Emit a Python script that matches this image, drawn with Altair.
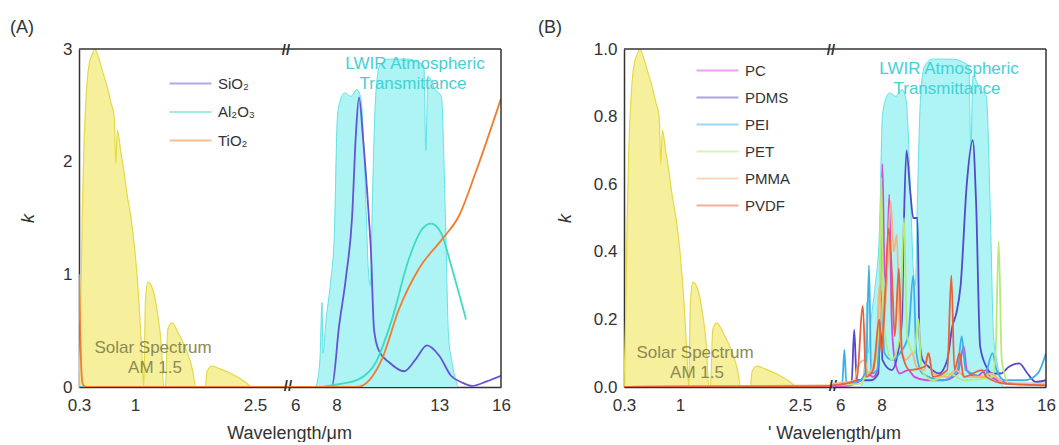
import altair as alt
import pandas as pd

# ---------------- data ----------------
# normalised AM1.5 solar spectrum (background)
solar_wl = [0.30, 0.32, 0.34, 0.36, 0.38, 0.40, 0.43, 0.46, 0.50, 0.55, 0.60, 0.65, 0.70, 0.74,
            0.76, 0.78, 0.82, 0.86, 0.90, 0.95, 1.00, 1.05, 1.09, 1.11, 1.13, 1.16, 1.22, 1.28,
            1.33, 1.36, 1.38, 1.41, 1.46, 1.54, 1.64, 1.72, 1.76, 1.88, 1.90, 1.96, 2.07, 2.23,
            2.36, 2.45]
solar_rel = [0.0, 0.20, 0.50, 0.70, 0.82, 0.90, 0.96, 0.98, 1.00, 0.97, 0.93, 0.89, 0.84, 0.80,
             0.66, 0.76, 0.70, 0.64, 0.57, 0.50, 0.40, 0.25, 0.08, 0.0, 0.25, 0.31, 0.29, 0.22,
             0.12, 0.0, 0.0, 0.17, 0.19, 0.16, 0.11, 0.05, 0.0, 0.0, 0.045, 0.062, 0.053, 0.036,
             0.018, 0.0]

# normalised LWIR atmospheric transmittance (background)
lwir_wl = [7.0, 7.2, 7.3, 7.35, 7.5, 7.7, 7.9, 8.05, 8.2, 8.4, 8.7, 9.0, 9.2, 9.4, 9.55, 9.65,
           9.75, 9.9, 10.1, 10.5, 11.0, 11.5, 12.0, 12.25, 12.35, 12.45, 12.8, 13.1, 13.3,
           13.45, 13.6, 13.9]
lwir_rel = [0.0, 0.08, 0.25, 0.10, 0.20, 0.30, 0.45, 0.80, 0.85, 0.87, 0.86, 0.88, 0.85, 0.60,
            0.35, 0.30, 0.55, 0.85, 0.95, 0.97, 0.97, 0.97, 0.96, 0.95, 0.70, 0.92, 0.88, 0.86,
            0.50, 0.15, 0.08, 0.0]

# (A) inorganic materials
a_names = ["SiO₂", "Al₂O₃", "TiO₂"]
a_colors = ["#6652d6", "#3fd9c4", "#f07d2e"]
sio2_wl = [0.3, 7.3, 7.79, 8.13, 8.47, 8.76, 8.95, 9.1, 9.3, 9.58, 9.68, 9.83, 10.07, 10.56,
           11.29, 11.87, 12.4, 12.99, 13.57, 14.1, 14.6, 15.3, 16.0]
sio2_k = [0.0, 0.0, 0.01, 0.54, 0.98, 1.50, 2.25, 2.57, 2.20, 1.50, 1.20, 0.51, 0.32, 0.22,
          0.14, 0.25, 0.37, 0.28, 0.10, 0.04, 0.01, 0.05, 0.10]
al2o3_wl = [0.3, 7.3, 7.6, 8.27, 9.1, 9.92, 10.7, 11.53, 12.16, 12.6, 13.08, 13.62, 14.3]
al2o3_k = [0.0, 0.0, 0.01, 0.03, 0.07, 0.22, 0.60, 1.14, 1.40, 1.45, 1.37, 1.05, 0.60]
tio2_wl = [0.3, 0.315, 0.33, 0.35, 0.40, 9.0, 9.24, 10.22, 11.04, 12.01, 13.13, 13.96, 14.78,
           15.56, 16.0]
tio2_k = [1.0, 0.50, 0.15, 0.02, 0.0, 0.0, 0.01, 0.25, 0.69, 1.05, 1.31, 1.52, 1.91, 2.32, 2.56]

# (B) polymers
b_names = ["PC", "PDMS", "PEI", "PET", "PMMA", "PVDF"]
b_colors = ["#d24cd6", "#5548cc", "#3cb0ea", "#b4ea7a", "#f4b27c", "#e8603c"]
pc_wl = [0.3, 5.6, 6.5, 7.0, 7.3, 7.6, 7.85, 7.95, 8.05, 8.15, 8.25, 8.38, 8.5, 8.65, 8.9, 9.3,
         9.6, 10.2, 11.0, 11.7, 11.85, 12.0, 12.15, 12.6, 13.1, 13.3, 14.5, 16.0]
pc_k = [0.0, 0.0, 0.005, 0.02, 0.04, 0.03, 0.06, 0.30, 0.66, 0.35, 0.30, 0.57, 0.20, 0.08, 0.04,
        0.05, 0.03, 0.02, 0.02, 0.04, 0.08, 0.12, 0.05, 0.03, 0.05, 0.03, 0.01, 0.01]
pdms_wl = [0.3, 5.6, 6.55, 6.68, 6.8, 7.5, 7.85, 7.95, 8.05, 8.5, 8.8, 9.0, 9.1, 9.22, 9.4, 9.55,
           9.75, 9.85, 10.0, 10.3, 10.8, 11.2, 11.45, 11.65, 11.85, 12.15, 12.44, 12.6, 12.8,
           13.1, 13.4, 13.8, 14.2, 14.7, 15.1, 15.5, 16.0]
pdms_k = [0.0, 0.005, 0.01, 0.17, 0.02, 0.02, 0.04, 0.30, 0.08, 0.05, 0.10, 0.20, 0.50, 0.70,
          0.58, 0.50, 0.50, 0.15, 0.08, 0.06, 0.04, 0.08, 0.18, 0.22, 0.30, 0.60, 0.73, 0.55,
          0.12, 0.06, 0.04, 0.04, 0.06, 0.07, 0.04, 0.015, 0.02]
pei_wl = [0.3, 5.6, 6.1, 6.2, 6.3, 7.0, 7.25, 7.4, 7.5, 7.8, 8.0, 8.15, 8.5, 8.9, 9.3, 9.55, 9.7,
          10.0, 11.0, 11.7, 11.9, 12.1, 13.0, 13.4, 13.6, 14.0, 15.0, 15.6, 16.0]
pei_k = [0.0, 0.005, 0.01, 0.11, 0.01, 0.02, 0.05, 0.36, 0.04, 0.05, 0.25, 0.10, 0.08, 0.10,
         0.15, 0.33, 0.10, 0.04, 0.02, 0.05, 0.15, 0.05, 0.03, 0.10, 0.05, 0.02, 0.02, 0.04, 0.10]
pet_wl = [0.3, 5.6, 7.0, 7.3, 7.6, 7.9, 8.0, 8.1, 8.5, 8.9, 9.1, 9.25, 9.6, 9.8, 9.95, 10.5,
          11.3, 12.0, 13.4, 13.55, 13.7, 13.85, 14.2, 16.0]
pet_k = [0.0, 0.005, 0.01, 0.04, 0.05, 0.20, 0.62, 0.20, 0.08, 0.15, 0.50, 0.15, 0.10, 0.20,
         0.05, 0.02, 0.04, 0.02, 0.03, 0.10, 0.43, 0.08, 0.01, 0.01]
pmma_wl = [0.3, 5.6, 6.7, 6.85, 7.2, 7.35, 7.75, 7.9, 8.05, 8.25, 8.45, 8.6, 8.75, 8.9, 9.2,
           9.5, 9.7, 10.1, 10.25, 10.5, 11.2, 11.6, 12.1, 13.0, 13.3, 14.0, 16.0]
pmma_k = [0.0, 0.01, 0.02, 0.06, 0.08, 0.04, 0.10, 0.30, 0.15, 0.30, 0.55, 0.40, 0.45, 0.15,
          0.08, 0.10, 0.06, 0.05, 0.10, 0.04, 0.03, 0.05, 0.03, 0.03, 0.04, 0.01, 0.005]
pvdf_wl = [0.3, 5.6, 6.8, 7.1, 7.25, 7.6, 7.9, 8.0, 8.2, 8.35, 8.5, 8.65, 8.85, 9.0, 9.4, 10.1,
           10.3, 10.5, 11.2, 11.4, 11.55, 11.8, 12.0, 12.9, 13.1, 14.0, 16.0]
pvdf_k = [0.0, 0.005, 0.02, 0.24, 0.03, 0.05, 0.20, 0.10, 0.30, 0.47, 0.35, 0.15, 0.35, 0.10,
          0.05, 0.06, 0.10, 0.03, 0.05, 0.33, 0.05, 0.10, 0.03, 0.05, 0.03, 0.01, 0.005]

# axis tick labels
left_ticks = [0.3, 1, 2.5]
right_ticks = [6, 8, 13, 16]
a_yticks = [0, 1, 2, 3]
b_yticks = [0, 0.2, 0.4, 0.6, 0.8, 1.0]

# ---------------- tables ----------------
solar_df = pd.DataFrame({"wl": solar_wl, "rel": solar_rel})
lwir_df = pd.DataFrame({"wl": lwir_wl, "rel": lwir_rel})


def series_df(names, wls, ks):
    frames = []
    for n, w, k in zip(names, wls, ks):
        frames.append(pd.DataFrame({"wl": w, "k": k, "name": n}))
    return pd.concat(frames, ignore_index=True)


a_df = series_df(a_names, [sio2_wl, al2o3_wl, tio2_wl], [sio2_k, al2o3_k, tio2_k])
b_df = series_df(b_names, [pc_wl, pdms_wl, pei_wl, pet_wl, pmma_wl, pvdf_wl],
                 [pc_k, pdms_k, pei_k, pet_k, pmma_k, pvdf_k])

# ---------------- layout constants ----------------
WL, WR, H = 208, 214, 338
FONT = "Liberation Sans"
DARK = "#333333"
LEFT_DOM = [0.3, 2.9]
RIGHT_DOM = [5.6, 16.0]
XLABEL = "'' + datum.value"


def background(xs):
    ys = alt.Y("rel:Q", scale=alt.Scale(domain=[0, 1], nice=False), axis=None)
    lw_area = alt.Chart(lwir_df).mark_area(clip=True, color="#aaf3f3", opacity=0.95,
                                           interpolate="monotone").encode(x=xs, y=ys)
    lw_line = alt.Chart(lwir_df).mark_line(clip=True, color="#62e2e6", strokeWidth=1,
                                           interpolate="monotone").encode(x=xs, y=ys)
    so_area = alt.Chart(solar_df).mark_area(clip=True, color="#f4ec84", opacity=0.8,
                                            interpolate="monotone").encode(x=xs, y=ys)
    so_line = alt.Chart(solar_df).mark_line(clip=True, color="#e4d948", strokeWidth=1.2,
                                            interpolate="monotone").encode(x=xs, y=ys)
    return [lw_area, lw_line, so_area, so_line]


def panel(df, names, colors, ymax, yticks, yfmt, label, xtitle, ytitle_x,
          legend_x, legend_y, row_pad, solar_pos, lwir_pos, label_x):
    # ----- left sub-panel -----
    xl = alt.X("wl:Q", scale=alt.Scale(domain=LEFT_DOM, nice=False, zero=False),
               axis=alt.Axis(values=left_ticks, labelExpr=XLABEL, labelFlush=False, ticks=False,
                             grid=False, domainColor=DARK, domainWidth=1.5, labelFontSize=17,
                             labelPadding=10, labelColor=DARK, title=xtitle,
                             titleFontSize=18, titleFontWeight="normal", titleColor=DARK,
                             titleX=WL + 2, titleY=51, titleAlign="center",
                             titleBaseline="alphabetic"))
    yl = alt.Y("k:Q", scale=alt.Scale(domain=[0, ymax], nice=False),
               axis=alt.Axis(values=yticks, format=yfmt, ticks=False, grid=False,
                             domainColor=DARK, domainWidth=1.5, labelFontSize=17,
                             labelPadding=7, labelColor=DARK, title="k",
                             titleFontStyle="italic", titleFontSize=18,
                             titleFontWeight="normal", titleColor=DARK,
                             titleX=ytitle_x, titleY=H / 2, titleBaseline="middle"))
    color_l = alt.Color("name:N", scale=alt.Scale(domain=names, range=colors),
                        legend=alt.Legend(orient="none", legendX=legend_x, legendY=legend_y,
                                          title=None, symbolType="M-3,0H3", symbolSize=196,
                                          symbolStrokeWidth=2.2, symbolOpacity=0.5,
                                          labelFontSize=15, labelColor=DARK, labelFont=FONT,
                                          labelOffset=19, rowPadding=row_pad, padding=0))
    lines_l = alt.Chart(df).mark_line(clip=True, strokeWidth=1.8,
                                      interpolate="monotone").encode(
        x=xl, y=yl, color=color_l, order="wl:Q")

    deco_l = [
        alt.Chart().mark_rule(color=DARK, strokeWidth=1.5).encode(
            x=alt.value(0), x2=alt.value(WL), y=alt.value(0)),
        alt.Chart().mark_text(text="//", fontSize=15, fontWeight="bold", color=DARK,
                              font=FONT).encode(x=alt.value(WL - 1), y=alt.value(1)),
        alt.Chart().mark_text(text="//", fontSize=15, fontWeight="bold", color=DARK,
                              font=FONT).encode(x=alt.value(WL + 1), y=alt.value(H - 1)),
        alt.Chart().mark_text(text=label, fontSize=18, color=DARK, font=FONT, align="left",
                              baseline="middle").encode(x=alt.value(label_x), y=alt.value(-21)),
        alt.Chart().mark_text(text="Solar Spectrum", fontSize=17, color="#8c8a52", font=FONT,
                              align="center", baseline="middle").encode(
            x=alt.value(solar_pos[0]), y=alt.value(solar_pos[1])),
        alt.Chart().mark_text(text="AM 1.5", fontSize=17, color="#8c8a52", font=FONT,
                              align="center", baseline="middle").encode(
            x=alt.value(solar_pos[0] + 2), y=alt.value(solar_pos[1] + 20)),
    ]
    left = alt.layer(*background(xl), lines_l, *deco_l).resolve_scale(
        y="independent").properties(width=WL, height=H)

    # ----- right sub-panel -----
    xr = alt.X("wl:Q", scale=alt.Scale(domain=RIGHT_DOM, nice=False, zero=False),
               axis=alt.Axis(values=right_ticks, labelExpr=XLABEL, labelFlush=False,
                             ticks=False, grid=False, domainColor=DARK, domainWidth=1.5,
                             labelFontSize=17, labelPadding=10, labelColor=DARK, title=None))
    yr = alt.Y("k:Q", scale=alt.Scale(domain=[0, ymax], nice=False), axis=None)
    color_r = alt.Color("name:N", scale=alt.Scale(domain=names, range=colors), legend=None)
    lines_r = alt.Chart(df).mark_line(clip=True, strokeWidth=1.8,
                                      interpolate="monotone").encode(
        x=xr, y=yr, color=color_r, order="wl:Q")
    deco_r = [
        alt.Chart().mark_rule(color=DARK, strokeWidth=1.5).encode(
            x=alt.value(0), x2=alt.value(WR), y=alt.value(0)),
        alt.Chart().mark_rule(color=DARK, strokeWidth=1.5).encode(
            x=alt.value(WR), y=alt.value(0), y2=alt.value(H)),
        alt.Chart().mark_text(text="LWIR Atmospheric", fontSize=17, color="#45d0d4", font=FONT,
                              align="center", baseline="middle").encode(
            x=alt.value(lwir_pos[0]), y=alt.value(lwir_pos[1])),
        alt.Chart().mark_text(text="Transmittance", fontSize=17, color="#45d0d4", font=FONT,
                              align="center", baseline="middle").encode(
            x=alt.value(lwir_pos[0] - 2), y=alt.value(lwir_pos[1] + 20)),
    ]
    right = alt.layer(*background(xr), lines_r, *deco_r).resolve_scale(
        y="independent").properties(width=WR, height=H)

    return alt.hconcat(left, right, spacing=0, bounds="flush").resolve_scale(
        color="independent")


panel_a = panel(a_df, a_names, a_colors, 3, a_yticks, "d", "(A)", "Wavelength/μm", -51,
                103, 26, 11.5, (74, 299), (128, 15), -69)
panel_b = panel(b_df, b_names, b_colors, 1.0, b_yticks, ".1f", "(B)", "' Wavelength/μm", -59,
                85, 13, 10, (71, 304), (117, 20), -86)

chart = alt.hconcat(panel_a, panel_b, spacing=27).resolve_scale(color="independent").properties(
    padding={"left": 10, "top": 19, "right": 2, "bottom": 0}
).configure(font=FONT).configure_view(stroke="transparent", strokeWidth=0)

chart.save("out.html", embed_options={"renderer": "svg", "actions": False})
